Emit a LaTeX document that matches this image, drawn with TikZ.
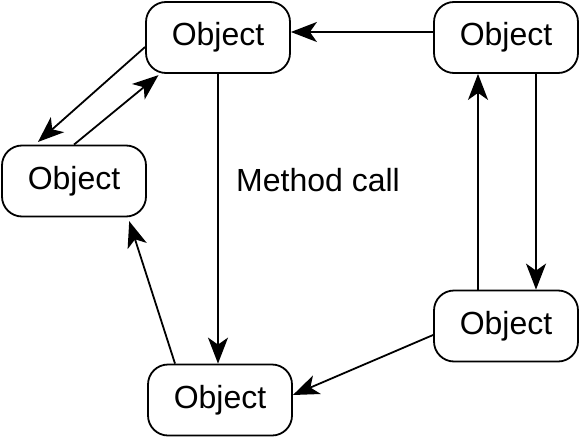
\documentclass[tikz,border=0pt]{standalone}
\usepackage{fontspec}
\setmainfont{Liberation Sans}
\usetikzlibrary{arrows.meta, positioning}

\begin{document}
\begin{tikzpicture}[x=0.5pt, y=-0.5pt,
    obj/.style={rectangle, draw, rounded corners=10pt,
      minimum width=72pt, minimum height=35.5pt, font=\fontsize{16}{19}\selectfont},
    call/.style={-{Stealth[length=13pt, width=10pt, inset=3.5pt]}},
    line width=0.9pt]
  \useasboundingbox (0,0) rectangle (581,438);

  \node[obj] (T)  at (218,37.5) {Object};
  \node[obj] (RT) at (506,37.5) {Object};
  \node[obj] (L)  at (74,181)   {Object};
  \node[obj] (RB) at (506,326)  {Object};
  \node[obj] (B)  at (220,400)  {Object};
  \node[font=\fontsize{16}{19}\selectfont] (M) at (318,180) {Method call};

  \draw[call] ([yshift=2.75pt]RT.west) -- ([yshift=2.75pt]T.east);
  \draw[call] (T.south) -- (T.south |- B.north);
  \draw[call, shorten >=2pt] ([yshift=-4.75pt]T.west) -- ([xshift=-19.5pt]L.north);
  \draw[call, shorten >=1pt] (L.north) -- ([xshift=-29pt]T.south);
  \draw[call, shorten >=2pt] ([xshift=-22.5pt]B.north) -- ([xshift=27pt]L.south);
  \draw[call] ([yshift=-4.5pt]RB.west) -- ([yshift=2.5pt]B.east);
  \draw[call] ([xshift=-14pt]RB.north) -- ([xshift=-14pt]RT.south);
  \draw[call] ([xshift=15pt]RT.south) -- ([xshift=15pt]RB.north);
\end{tikzpicture}
\end{document}
